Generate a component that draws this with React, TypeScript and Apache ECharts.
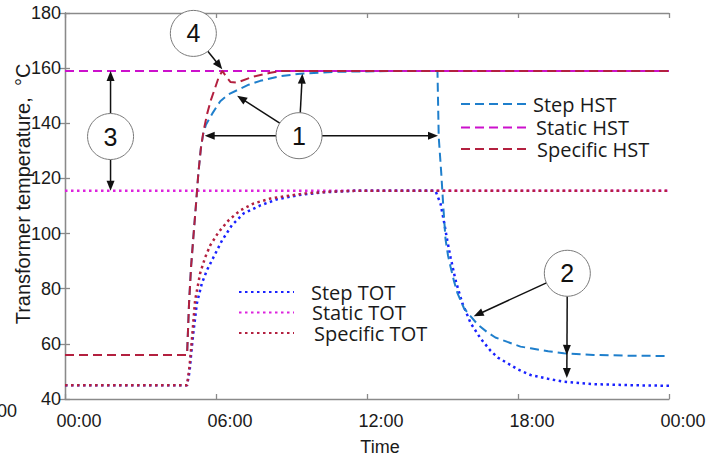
import React, { useEffect, useRef } from "react";
import * as echarts from "echarts";

// Time axis (hours from midnight) and temperature axis settings
const timeLabels = ["00:00", "06:00", "12:00", "18:00", "00:00"];
const tempTicks = [40, 60, 80, 100, 120, 140, 160, 180];

// Hot-spot temperature (HST), [hour, °C]
const stepHST: [number, number][] = [
  [0, 56], [4.85, 56], [4.93, 75], [5.01, 88], [5.09, 97.5], [5.2, 110], [5.3, 122],
  [5.4, 131], [5.49, 136], [5.6, 139.5], [5.85, 143.5], [6.17, 148], [6.5, 150.5],
  [6.84, 152], [7.3, 154], [7.76, 155.4], [8.5, 157], [9.35, 158], [10.94, 158.7],
  [13.3, 159], [14.8, 159], [14.85, 135], [14.95, 122], [15.03, 110], [15.12, 98],
  [15.22, 92], [15.32, 88], [15.45, 83], [15.59, 78.5], [15.85, 73], [16.12, 70],
  [16.4, 67], [16.78, 64.2], [17.1, 62.3], [17.58, 60.7], [18.1, 59], [18.5, 58.4],
  [19.2, 57.3], [19.82, 56.6], [21, 56], [22.5, 55.7], [24, 55.6],
];
const staticHST: [number, number][] = [[0, 159], [24, 159]];
const specificHST: [number, number][] = [
  [0, 56], [4.85, 56], [4.93, 75], [5.01, 88], [5.09, 97.5], [5.2, 110], [5.3, 122],
  [5.4, 131], [5.5, 137], [5.65, 143.5], [5.8, 148.5], [5.97, 153], [6.1, 156.5],
  [6.25, 159], [6.4, 157], [6.57, 155], [6.8, 154.8], [6.96, 155.2], [7.48, 156.9],
  [8.16, 158.3], [8.56, 159], [24, 159],
];

// Top-oil temperature (TOT), [hour, °C]
const stepTOT: [number, number][] = [
  [0, 45], [4.85, 45], [4.95, 50], [5.02, 57], [5.1, 64], [5.24, 74.7], [5.44, 82],
  [5.64, 86.7], [5.9, 91.4], [6.24, 97.5], [6.63, 103], [7.1, 107.3], [7.76, 110.2],
  [8.42, 112.4], [9.3, 114], [10.3, 115], [11.5, 115.5], [14.72, 115.5], [14.92, 110.9],
  [15.05, 104.8], [15.19, 97.5], [15.32, 91.4], [15.52, 83], [15.79, 74.7], [16.12, 67.5],
  [16.51, 62], [16.91, 57.5], [17.2, 55], [17.58, 53], [18, 50.7], [18.5, 48.7],
  [19.2, 47.3], [19.82, 46.3], [21, 45.4], [22.5, 45], [24, 44.8],
];
const staticTOT: [number, number][] = [[0, 115.5], [24, 115.5]];
const specificTOT: [number, number][] = [
  [0, 45], [4.85, 45], [4.95, 52], [5.04, 61.3], [5.17, 75.8], [5.37, 85.6], [5.57, 91.4],
  [5.77, 95.7], [6.1, 100.5], [6.5, 104.8], [6.96, 108.4], [7.49, 110.9], [8.16, 112.7],
  [8.56, 113.3], [9.5, 114.5], [10.5, 115.2], [11.5, 115.5], [24, 115.5],
];

// Numbered callouts: circle centre and arrow tips, in [hour, °C]
const callouts: { label: string; at: [number, number]; tips: [number, number][][] }[] = [
  { label: "4", at: [5.1, 172.6], tips: [[[6.25, 159.6]]] },
  { label: "3", at: [1.81, 135.2], tips: [[[1.81, 159]], [[1.81, 115.5]]] },
  {
    label: "1",
    at: [9.3, 135.5],
    tips: [[[5.55, 135.5]], [[14.82, 135.5]], [[9.43, 158]], [[6.84, 150]]],
  },
  { label: "2", at: [19.96, 85.6], tips: [[[16.24, 70]], [[19.94, 56], [19.94, 47.6]]] },
];

const COLORS: Record<string, string> = {
  "Step HST": "#1f7fcc",
  "Static HST": "#cc11cc",
  "Specific HST": "#b3203f",
  "Step TOT": "#1a22ff",
  "Static TOT": "#dd22dd",
  "Specific TOT": "#b3203f",
};

// Legend rows: [name, line left, row top, text nudge, line length]
const legendRows: [string, number, number, number, number][] = [
  ["Step HST", 460, 94, 1, 66],
  ["Static HST", 460, 117.5, 4, 66],
  ["Specific HST", 460, 139, 5, 66],
  ["Step TOT", 238, 282, 12, 55],
  ["Static TOT", 238, 302.5, 13, 55],
  ["Specific TOT", 238, 323, 15, 55],
];

const FONT = "'Liberation Sans', Arial, sans-serif";
const LEGEND_FONT = "'Open Sans', 'Noto Sans', sans-serif";

function lineSeries(name: string, data: [number, number][], dotted: boolean) {
  const color = COLORS[name];
  return {
    name,
    type: "line",
    data,
    symbol: "none",
    showSymbol: false,
    lineStyle: {
      color,
      width: dotted ? 2.5 : 2,
      type: dotted ? [2.5, 3.5] : [9, 5],
    },
    itemStyle: { color },
    z: 3,
  };
}

export default function App() {
  const ref = useRef<HTMLDivElement>(null);

  useEffect(() => {
    if (!ref.current) return;
    const chart = echarts.init(ref.current, undefined, { renderer: "svg" });

    const axisLine = { show: true, lineStyle: { color: "#8a8a8a", width: 1.3 } };
    const axisTick = { show: true, inside: true, length: 5, lineStyle: { color: "#8a8a8a", width: 1.3 } };

    chart.setOption({
      animation: false,
      backgroundColor: "#ffffff",
      grid: {
        left: 65,
        right: 54,
        top: 13,
        bottom: 59,
        containLabel: false,
        outerBoundsMode: "none",
      },
      xAxis: [
        {
          type: "value",
          min: 0,
          max: 24,
          interval: 6,
          position: "bottom",
          axisLine,
          axisTick,
          splitLine: { show: false },
          axisLabel: {
            color: "#1a1a1a",
            fontFamily: FONT,
            fontSize: 18,
            margin: 13,
            padding: [0, 0, 0, 28],
            formatter: (v: number) => timeLabels[Math.round(v / 6)] ?? "",
          },
          name: "Time",
          nameLocation: "middle",
          nameGap: 39,
          nameMoveOverlap: false,
          nameTextStyle: { color: "#1a1a1a", fontFamily: FONT, fontSize: 18, padding: [0, 0, 0, 26] },
        },
        {
          type: "value",
          min: 0,
          max: 24,
          interval: 6,
          position: "top",
          axisLine,
          axisTick,
          axisLabel: { show: false },
          splitLine: { show: false },
        },
      ],
      yAxis: [
        {
          type: "value",
          min: tempTicks[0],
          max: tempTicks[tempTicks.length - 1],
          interval: 20,
          position: "left",
          axisLine,
          axisTick,
          splitLine: { show: false },
          axisLabel: { color: "#1a1a1a", fontFamily: FONT, fontSize: 18, margin: 4 },
          name: "Transformer temperature,  \u00b0C",
          nameLocation: "middle",
          nameGap: 32,
          nameMoveOverlap: false,
          nameTextStyle: { color: "#1a1a1a", fontFamily: FONT, fontSize: 20, padding: [0, 0, 0, 24] },
        },
        {
          type: "value",
          min: tempTicks[0],
          max: tempTicks[tempTicks.length - 1],
          interval: 20,
          position: "right",
          axisLine,
          axisTick,
          axisLabel: { show: false },
          splitLine: { show: false },
        },
      ],
      legend: legendRows.map(([name, left, top, nudge, width]) => ({
        data: [name],
        left,
        top,
        padding: 0,
        itemWidth: width,
        itemHeight: 20,
        itemStyle: { opacity: 0 },
        textStyle: {
          color: "#1a1a1a",
          fontFamily: LEGEND_FONT,
          fontSize: 20,
          lineHeight: 20,
          padding: [0, 0, 0, nudge],
        },
      })),
      series: [
        lineSeries("Static HST", staticHST, false),
        lineSeries("Static TOT", staticTOT, true),
        lineSeries("Step TOT", stepTOT, true),
        lineSeries("Specific TOT", specificTOT, true),
        lineSeries("Step HST", stepHST, false),
        lineSeries("Specific HST", specificHST, false),
      ],
    });

    // Callout circles and arrows, placed from data coordinates
    const toPx = (p: [number, number]) =>
      chart.convertToPixel({ xAxisIndex: 0, yAxisIndex: 0 }, p) as number[];
    const R = 23;
    const HEAD = 10;
    const HALF = 4;
    const graphics: any[] = [];
    callouts.forEach((c) => {
      const [cx, cy] = toPx(c.at);
      c.tips.forEach((tipList) => {
        const pts = tipList.map(toPx);
        const last = pts[pts.length - 1];
        const dx = last[0] - cx;
        const dy = last[1] - cy;
        const len = Math.hypot(dx, dy);
        const ux = dx / len;
        const uy = dy / len;
        const sx = cx + ux * R;
        const sy = cy + uy * R;
        graphics.push({
          type: "line",
          shape: { x1: sx, y1: sy, x2: last[0] - ux * HEAD * 0.8, y2: last[1] - uy * HEAD * 0.8 },
          style: { stroke: "#111", lineWidth: 1.5 },
          z: 20,
        });
        pts.forEach((t) => {
          const bx = t[0] - ux * HEAD;
          const by = t[1] - uy * HEAD;
          graphics.push({
            type: "polygon",
            shape: {
              points: [
                [t[0], t[1]],
                [bx - uy * HALF, by + ux * HALF],
                [bx + uy * HALF, by - ux * HALF],
              ],
            },
            style: { fill: "#111" },
            z: 21,
          });
        });
      });
      graphics.push({
        type: "circle",
        shape: { cx, cy, r: R },
        style: { fill: "#ffffff", stroke: "#7a7a7a", lineWidth: 1 },
        z: 22,
      });
      graphics.push({
        type: "text",
        x: cx,
        y: cy,
        style: {
          text: c.label,
          fill: "#111",
          font: `25px ${FONT}`,
          textAlign: "center",
          textVerticalAlign: "middle",
        },
        z: 23,
      });
    });
    graphics.push({
      type: "text",
      x: -3,
      y: 402,
      style: { text: "00", fill: "#1a1a1a", font: `18px ${FONT}` },
      z: 5,
    });
    chart.setOption({ graphic: graphics });

    return () => chart.dispose();
  }, []);

  return (
    <div
      ref={ref}
      style={{ position: "fixed", left: 0, top: 0, width: 723, height: 458, background: "#fff" }}
    />
  );
}
